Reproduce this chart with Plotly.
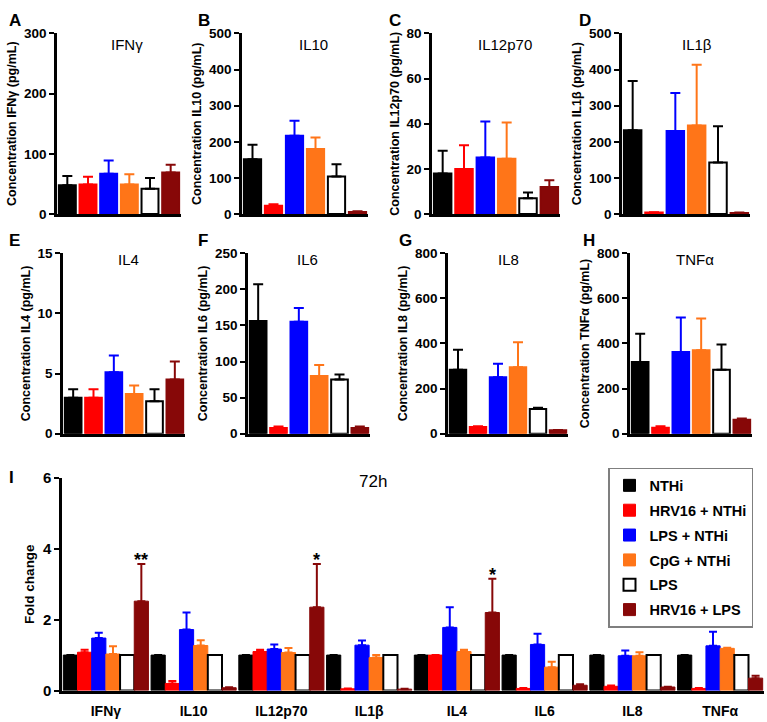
import plotly.graph_objects as go

W, H = 767, 722

# ---------------- data ----------------
groups = ["NTHi", "HRV16 + NTHi", "LPS + NTHi", "CpG + NTHi", "LPS", "HRV16 + LPS"]
cytokines = ["IFNγ", "IL10", "IL12p70", "IL1β", "IL4", "IL6", "IL8", "TNFα"]

# concentrations (pg/mL), mean and upper error (SEM) per group
ifng_mean = [48, 49, 67, 49, 42, 69]
ifng_err = [15, 13, 22, 17, 18, 13]
il10_mean = [152, 23, 217, 180, 104, 6]
il10_err = [40, 4, 41, 32, 34, 2]
il12_mean = [18, 20, 25, 24.5, 7, 12]
il12_err = [10, 10.5, 16, 16, 2.5, 3]
il1b_mean = [232, 4, 230, 245, 143, 3]
il1b_err = [136, 1, 105, 168, 100, 1]
il4_mean = [3.0, 3.0, 5.1, 3.3, 2.7, 4.5]
il4_err = [0.7, 0.7, 1.4, 0.7, 1.0, 1.5]
il6_mean = [156, 8, 155, 80, 75, 8]
il6_err = [51, 2, 19, 15, 7, 2]
il8_mean = [283, 30, 250, 295, 110, 15]
il8_err = [89, 3, 60, 110, 5, 2]
tnfa_mean = [318, 27, 362, 370, 283, 62]
tnfa_err = [125, 6, 153, 140, 112, 6]

conc_ymax = [300, 500, 80, 500, 15, 250, 800, 800]
conc_dtick = [100, 100, 20, 100, 5, 50, 200, 200]
panel_letters = ["A", "B", "C", "D", "E", "F", "G", "H"]

# fold change (72h), per group across cytokines
fold_nthi = [1, 1, 1, 1, 1, 1, 1, 1]
fold_nthi_err = [0, 0, 0, 0, 0, 0, 0, 0]
fold_hrv_nthi = [1.08, 0.2, 1.1, 0.05, 1.0, 0.06, 0.12, 0.06]
fold_hrv_nthi_err = [0.07, 0.07, 0.05, 0.01, 0, 0.01, 0.02, 0.01]
fold_lps_nthi = [1.48, 1.72, 1.17, 1.28, 1.78, 1.3, 0.98, 1.26]
fold_lps_nthi_err = [0.15, 0.48, 0.13, 0.13, 0.57, 0.3, 0.15, 0.4]
fold_cpg_nthi = [1.03, 1.27, 1.07, 0.93, 1.1, 0.66, 0.98, 1.19]
fold_cpg_nthi_err = [0.22, 0.15, 0.13, 0.07, 0.05, 0.15, 0.1, 0.02]
fold_lps = [1, 1, 1, 1, 1, 1, 1, 1]
fold_lps_err = [0, 0, 0, 0, 0, 0, 0, 0]
fold_hrv_lps = [2.52, 0.08, 2.35, 0.04, 2.2, 0.15, 0.1, 0.35]
fold_hrv_lps_err = [1.05, 0.01, 1.22, 0.01, 0.95, 0.03, 0.01, 0.07]

signif_cytokines = ["IFNγ", "IL12p70", "IL4"]
signif_labels = ["**", "*", "*"]

# ---------------- styling ----------------
fills = ["#000000", "#ff0000", "#0000ff", "#ff7518", "#ffffff", "#870808"]
edges = ["#000000", "#ff0000", "#0000ff", "#ff7518", "#000000", "#870808"]
FONT = "Liberation Sans, Arial, sans-serif"

conc_means = [ifng_mean, il10_mean, il12_mean, il1b_mean, il4_mean, il6_mean, il8_mean, tnfa_mean]
conc_errs = [ifng_err, il10_err, il12_err, il1b_err, il4_err, il6_err, il8_err, tnfa_err]
fold_means = [fold_nthi, fold_hrv_nthi, fold_lps_nthi, fold_cpg_nthi, fold_lps, fold_hrv_lps]
fold_errs = [fold_nthi_err, fold_hrv_nthi_err, fold_lps_nthi_err, fold_cpg_nthi_err, fold_lps_err, fold_hrv_lps_err]

# panel plot-area boxes in pixels: (left, right, top, bottom)
boxes = [
    (57, 181, 25, 210), (242, 368, 25, 210), (432, 560, 25, 210), (622, 750, 25, 210),
    (63, 185, 250, 435), (248, 370, 250, 435), (448, 568, 250, 435), (630, 752, 250, 435),
]
letter_pos = [(7, 12), (196, 12), (387, 12), (577, 12), (7, 237), (196, 237), (397, 237), (581, 237)]
title_pos = [(127, 36), (313, 36), (505, 36), (697, 36), (128, 257), (307, 257), (508, 257), (695, 257)]
I_box = (62, 764, 480, 698)


def fx(x):
    return x / W


def fy(y):
    return 1 - y / H


fig = go.Figure()
layout = dict()
annotations = []

# ---------- panel I (fold change), axes x / y ----------
for g in range(6):
    fig.add_trace(go.Bar(
        x=cytokines, y=fold_means[g], name=groups[g],
        marker=dict(color=fills[g], line=dict(color=edges[g], width=2 if g == 4 else 1)),
        error_y=dict(type="data", symmetric=False, array=fold_errs[g],
                     arrayminus=[0] * len(cytokines), color=edges[g], thickness=2, width=4),
        xaxis="x", yaxis="y", legendgroup=groups[g], showlegend=True,
    ))

layout["xaxis"] = dict(domain=[fx(I_box[0]), fx(I_box[1])], anchor="y", showline=True,
                       linecolor="black", linewidth=2.5, ticks="", showgrid=False,
                       tickvals=cytokines, ticktext=[f"<b>{c}</b>" for c in cytokines],
                       ticklabelstandoff=6,
                       tickfont=dict(family=FONT, size=14, color="black"))
layout["yaxis"] = dict(domain=[fy(I_box[3]), fy(I_box[2])], anchor="x", range=[0, 6], dtick=2,
                       showline=True, linecolor="black", linewidth=2.5, ticks="outside",
                       ticklen=5, tickwidth=2, tickcolor="black", showgrid=False, zeroline=False,
                       tickprefix="<b>", ticksuffix="</b>",
                       tickfont=dict(family=FONT, size=15, color="black"),
                       title=dict(text="<b>Fold change</b>", standoff=6,
                                  font=dict(family=FONT, size=13.5, color="black")))

# ---------- concentration panels A-H, axes x2..x9 ----------
for p in range(8):
    k = p + 2
    for g in range(6):
        fig.add_trace(go.Bar(
            x=[groups[g]], y=[conc_means[p][g]], name=groups[g],
            marker=dict(color=fills[g], line=dict(color=edges[g], width=2)),
            error_y=dict(type="data", symmetric=False, array=[conc_errs[p][g]], arrayminus=[0],
                         color=edges[g], thickness=2, width=5),
            xaxis=f"x{k}", yaxis=f"y{k}", offsetgroup="single", width=0.82,
            showlegend=False,
        ))
    l, r, t, b = boxes[p]
    layout[f"xaxis{k}"] = dict(domain=[fx(l), fx(r)], anchor=f"y{k}", showline=True,
                               linecolor="black", linewidth=2.5, ticks="", showticklabels=False,
                               showgrid=False, categoryorder="array", categoryarray=groups)
    layout[f"yaxis{k}"] = dict(domain=[fy(b), fy(t)], anchor=f"x{k}", range=[0, conc_ymax[p]],
                               dtick=conc_dtick[p], showline=True, linecolor="black", linewidth=2.5,
                               ticks="outside", ticklen=5, tickwidth=2, tickcolor="black",
                               showgrid=False, zeroline=False,
                               tickprefix="<b>", ticksuffix="</b>",
                               tickfont=dict(family=FONT, size=13.5, color="black"),
                               title=dict(text=f"<b>Concentration {cytokines[p]} (pg/mL)</b>",
                                          standoff=5,
                                          font=dict(family=FONT, size=12.5, color="black")))
    annotations.append(dict(text=f"<b>{panel_letters[p]}</b>", x=fx(letter_pos[p][0]), y=fy(letter_pos[p][1]),
                            xref="paper", yref="paper", xanchor="left", yanchor="middle",
                            showarrow=False, font=dict(family=FONT, size=17, color="black")))
    annotations.append(dict(text=cytokines[p], x=fx(title_pos[p][0]), y=fy(title_pos[p][1]),
                            xref="paper", yref="paper", xanchor="center", yanchor="middle",
                            showarrow=False, font=dict(family=FONT, size=15, color="black")))

# panel I letter, title and significance marks
annotations.append(dict(text="<b>I</b>", x=fx(7), y=fy(480), xref="paper", yref="paper",
                        xanchor="left", yanchor="middle", showarrow=False,
                        font=dict(family=FONT, size=17, color="black")))
annotations.append(dict(text="72h", x=fx(373), y=fy(484), xref="paper", yref="paper",
                        xanchor="center", yanchor="middle", showarrow=False,
                        font=dict(family=FONT, size=17, color="black")))
for c, lab in zip(signif_cytokines, signif_labels):
    ci = cytokines.index(c)
    top = fold_hrv_lps[ci] + fold_hrv_lps_err[ci]
    annotations.append(dict(text=f"<b>{lab}</b>", x=ci + 0.404, y=top, xref="x", yref="y",
                            xanchor="center", yanchor="bottom", showarrow=False, yshift=-8,
                            font=dict(family=FONT, size=18, color="black")))

fig.update_layout(
    **layout,
    width=W, height=H,
    margin=dict(l=0, r=0, t=0, b=0),
    paper_bgcolor="white", plot_bgcolor="white",
    barmode="group", bargap=0.03, bargroupgap=0,
    annotations=annotations,
    showlegend=True,
    legend=dict(x=fx(608), y=fy(470), xanchor="left", yanchor="top",
                bordercolor="#7f7f7f", borderwidth=1.5, bgcolor="white",
                font=dict(family=FONT, size=14.5, color="black", weight="bold"),
                tracegroupgap=3, itemwidth=30),
    font=dict(family=FONT, color="black"),
)

fig.write_html("out.html", config={"displayModeBar": False},
               post_script="document.body.style.margin='0';")
